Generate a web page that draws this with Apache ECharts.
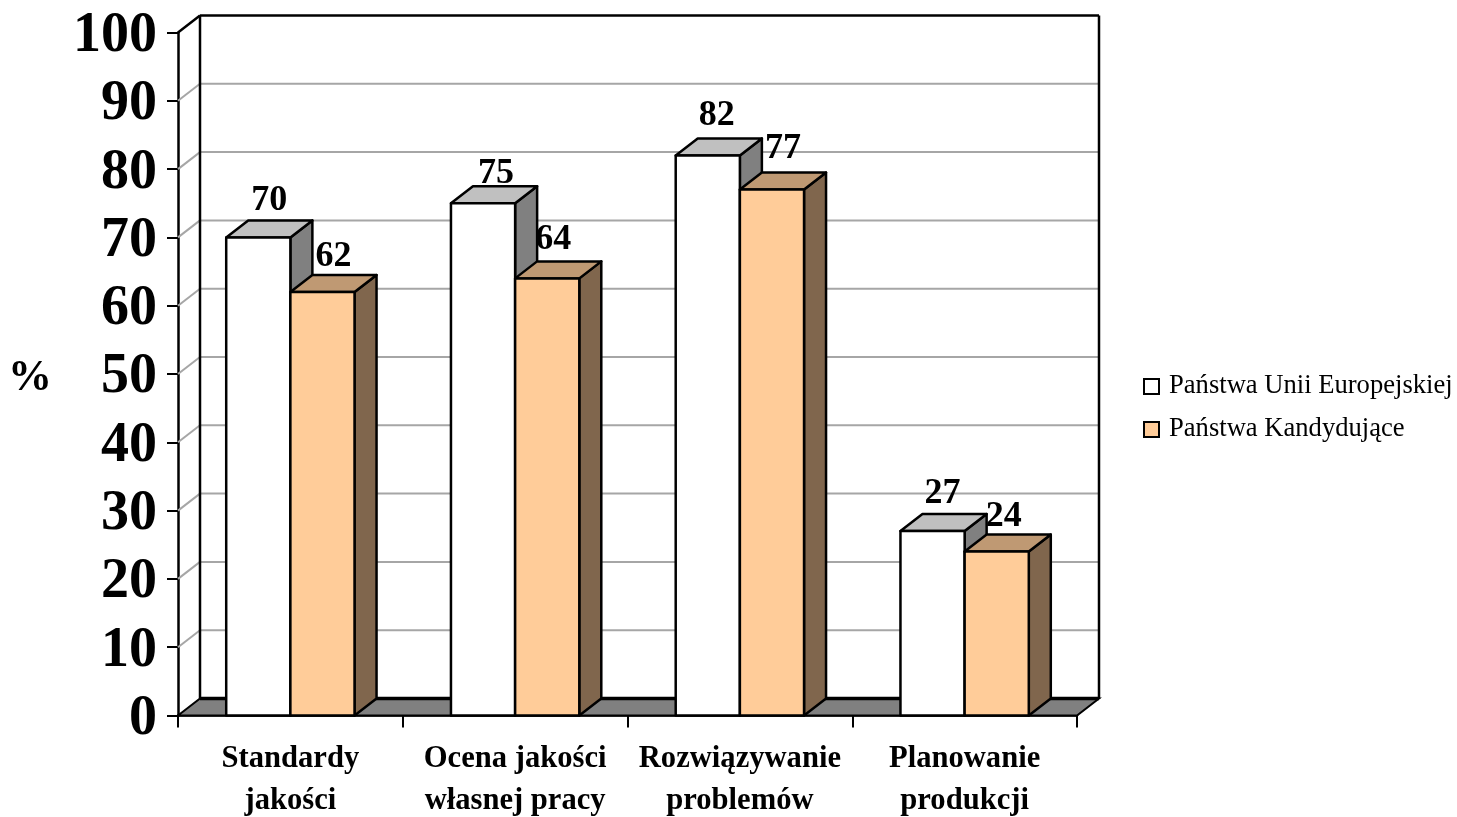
<!DOCTYPE html>
<html><head><meta charset="utf-8">
<style>html,body{margin:0;padding:0;background:#fff}#c{width:1457px;height:817px}</style>
<script src="https://cdn.jsdelivr.net/npm/echarts@6/dist/echarts.min.js"></script>
</head><body><div id="c"></div>
<script>
const categories = ['Standardy\njakości', 'Ocena jakości\nwłasnej pracy', 'Rozwiązywanie\nproblemów', 'Planowanie\nprodukcji'];
const seriesNames = ['Państwa Unii Europejskiej', 'Państwa Kandydujące'];
const euValues = [70, 75, 82, 27];
const candidateValues = [62, 64, 77, 24];
const yTicks = [0, 10, 20, 30, 40, 50, 60, 70, 80, 90, 100];

const DX = 22, DY = -17;
const FONT = '"Liberation Serif","Times New Roman",serif';
const euLabelNudge = [[11, -37], [13, -30], [9, -40], [10, -37]];
const candLabelNudge = [[11, -35], [6, -39], [11, -41], [7, -35]];

function wallItem(params, api) {
  const cs = params.coordSys, t = api.value(1), y = api.coord([0, t])[1];
  const x0 = cs.x, x1 = cs.x + cs.width;
  if (t === 0) {
    return {type: 'group', children: [
      {type: 'polygon', shape: {points: [[x0, y], [x0 + DX, y + DY], [x1 + DX, y + DY], [x1, y]]},
       style: {fill: '#808080', stroke: '#000', lineWidth: 2}},
      {type: 'line', shape: {x1: x0 + DX, y1: y + DY, x2: x1 + DX, y2: y + DY}, style: {stroke: '#000', lineWidth: 3.5}}
    ]};
  }
  const top = t === 100;
  const col = top ? '#000' : '#a6a6a6';
  const w = top ? 2.5 : 2;
  const kids = [
    {type: 'line', shape: {x1: x0, y1: y, x2: x0 + DX, y2: y + DY}, style: {stroke: col, lineWidth: w}},
    {type: 'line', shape: {x1: x0 + DX, y1: y + DY, x2: x1 + DX, y2: y + DY}, style: {stroke: col, lineWidth: w}}
  ];
  if (top) {
    const base = api.coord([0, 0])[1] + DY;
    kids.push({type: 'line', shape: {x1: x0 + DX, y1: y + DY, x2: x0 + DX, y2: base}, style: {stroke: '#000', lineWidth: 2.5}});
    kids.push({type: 'line', shape: {x1: x1 + DX, y1: y + DY, x2: x1 + DX, y2: base}, style: {stroke: '#000', lineWidth: 2.5}});
  }
  return {type: 'group', children: kids};
}

function barRenderer(side, front, topCol, sideCol, nudges) {
  return function (params, api) {
    const i = api.value(0), v = api.value(1);
    const p = api.coord([i, v]), b = api.coord([i, 0]);
    const w = api.size([1, 0])[0] * 0.2855;
    const xa = side < 0 ? p[0] - w : p[0], xb = xa + w;
    const line = {stroke: '#000', lineWidth: 2.5, lineJoin: 'round'};
    const n = nudges[i];
    return {type: 'group', children: [
      {type: 'polygon', shape: {points: [[xb, p[1]], [xb + DX, p[1] + DY], [xb + DX, b[1] + DY], [xb, b[1]]]},
       style: Object.assign({fill: sideCol}, line)},
      {type: 'polygon', shape: {points: [[xa, p[1]], [xa + DX, p[1] + DY], [xb + DX, p[1] + DY], [xb, p[1]]]},
       style: Object.assign({fill: topCol}, line)},
      {type: 'rect', shape: {x: xa, y: p[1], width: w, height: b[1] - p[1]},
       style: Object.assign({fill: front}, line)},
      {type: 'text', x: (xa + xb) / 2 + n[0], y: p[1] + n[1],
       style: {text: String(v), fill: '#000', font: 'bold 36px ' + FONT, align: 'center', verticalAlign: 'middle'}}
    ]};
  };
}

const chart = echarts.init(document.getElementById('c'), null, {renderer: 'canvas'});
chart.setOption({
  animation: false,
  backgroundColor: '#fff',
  grid: {left: 178, top: 32.5, width: 899, height: 683, outerBoundsMode: 'none'},
  legend: {
    data: seriesNames, orient: 'vertical', left: 1143, top: 373, padding: 0, icon: 'rect',
    itemWidth: 15, itemHeight: 15, itemGap: 16,
    textStyle: {fontFamily: FONT, fontSize: 26.6, color: '#000', padding: [0, 0, 0, 5]}
  },
  xAxis: {
    type: 'category', data: categories, boundaryGap: true,
    axisLine: {lineStyle: {color: '#000', width: 2.5}},
    axisTick: {show: true, alignWithLabel: false, length: 12, lineStyle: {color: '#000', width: 2}},
    axisLabel: {interval: 0, margin: 23, fontFamily: FONT, fontWeight: 'bold', fontSize: 30.6, lineHeight: 42, color: '#000'},
    splitLine: {show: false}
  },
  yAxis: {
    type: 'value', min: 0, max: 100, interval: 10,
    name: '%', nameLocation: 'middle', nameRotate: 0, nameGap: 126,
    nameTextStyle: {fontFamily: FONT, fontWeight: 'bold', fontSize: 44, color: '#000', verticalAlign: 'top', lineHeight: 10},
    axisLine: {show: true, lineStyle: {color: '#000', width: 2.5}},
    axisTick: {show: true, length: 11, lineStyle: {color: '#000', width: 2}},
    axisLabel: {margin: 21, fontFamily: FONT, fontWeight: 'bold', fontSize: 56, color: '#000', verticalAlign: 'top', lineHeight: 8},
    splitLine: {show: false}
  },
  series: [
    {type: 'custom', name: 'wall', coordinateSystem: 'cartesian2d', clip: false, silent: true, z: 1,
     encode: {x: 0, y: 1}, data: yTicks.map(t => [0, t]), renderItem: wallItem},
    {type: 'custom', name: seriesNames[0], coordinateSystem: 'cartesian2d', clip: false, z: 3,
     itemStyle: {color: '#ffffff', borderColor: '#000', borderWidth: 2},
     encode: {x: 0, y: 1}, data: euValues.map((v, i) => [i, v]),
     renderItem: barRenderer(-1, '#ffffff', '#c0c0c0', '#808080', euLabelNudge)},
    {type: 'custom', name: seriesNames[1], coordinateSystem: 'cartesian2d', clip: false, z: 4,
     itemStyle: {color: '#ffcc99', borderColor: '#000', borderWidth: 2},
     encode: {x: 0, y: 1}, data: candidateValues.map((v, i) => [i, v]),
     renderItem: barRenderer(1, '#ffcc99', '#bf9973', '#80664d', candLabelNudge)}
  ]
});
</script></body></html>
